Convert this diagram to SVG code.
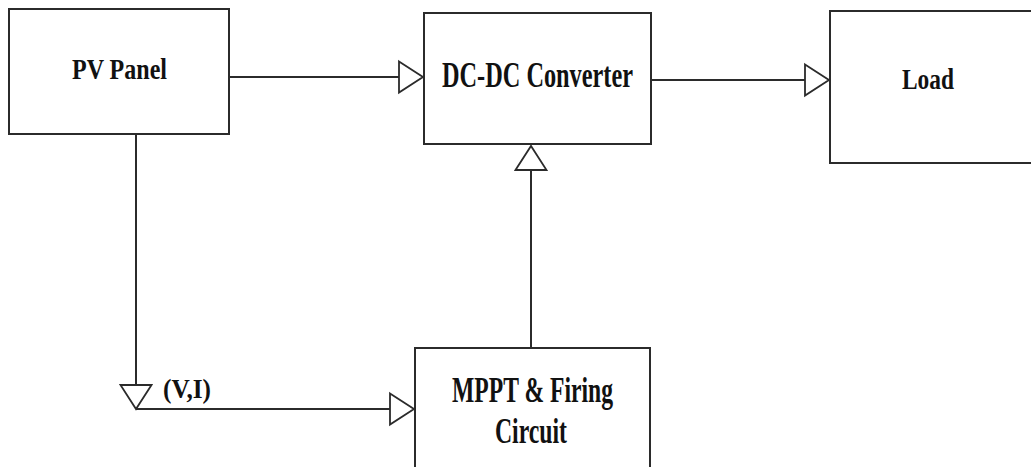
<svg xmlns="http://www.w3.org/2000/svg" width="1031" height="467" viewBox="0 0 1031 467">
  <style>
    .box { fill: #ffffff; stroke: #2b2b2b; stroke-width: 2; }
    .lbl { font-family: "Liberation Serif", "Times New Roman", serif; font-weight: bold; fill: #111111; }
    .wire { fill: none; stroke: #2b2b2b; stroke-width: 2; marker-end: url(#tri); }
  </style>
  <defs>
    <marker id="tri" markerUnits="userSpaceOnUse" markerWidth="30" markerHeight="36" viewBox="-2 -2 30 36" refX="24" refY="15.5" orient="auto" overflow="visible">
      <path d="M0,0 L24,15.5 L0,31 Z" fill="#ffffff" stroke="#2b2b2b" stroke-width="1.8" stroke-linejoin="miter"/>
    </marker>
  </defs>
  <rect width="1031" height="467" fill="#ffffff"/>

  <g id="pv-panel">
    <rect class="box" x="9" y="9" width="220" height="125"/>
    <text class="lbl" x="72" y="79" font-size="29" textLength="95" lengthAdjust="spacingAndGlyphs">PV Panel</text>
  </g>

  <g id="dc-dc-converter">
    <rect class="box" x="424" y="13" width="227" height="131"/>
    <text class="lbl" x="442" y="87" font-size="35" textLength="191" lengthAdjust="spacingAndGlyphs">DC-DC Converter</text>
  </g>

  <g id="load">
    <rect class="box" x="830" y="11" width="220" height="152"/>
    <text class="lbl" x="902" y="89" font-size="29" textLength="52" lengthAdjust="spacingAndGlyphs">Load</text>
  </g>

  <g id="mppt">
    <rect class="box" x="415" y="348" width="235" height="140"/>
    <text class="lbl" x="452" y="402" font-size="35" textLength="161" lengthAdjust="spacingAndGlyphs">MPPT &amp; Firing</text>
    <text class="lbl" x="495" y="443" font-size="35" textLength="72" lengthAdjust="spacingAndGlyphs">Circuit</text>
  </g>

  <g id="connectors">
    <line class="wire" x1="229" y1="77" x2="423" y2="77"/>
    <line class="wire" x1="651" y1="80" x2="829" y2="80"/>
    <line class="wire" x1="531" y1="348" x2="531" y2="146"/>
    <line class="wire" x1="136" y1="134" x2="136" y2="409"/>
    <line class="wire" x1="136" y1="409" x2="414" y2="409"/>
    <text class="lbl" x="163" y="398" font-size="28" textLength="48" lengthAdjust="spacingAndGlyphs">(V,I)</text>
  </g>
</svg>
